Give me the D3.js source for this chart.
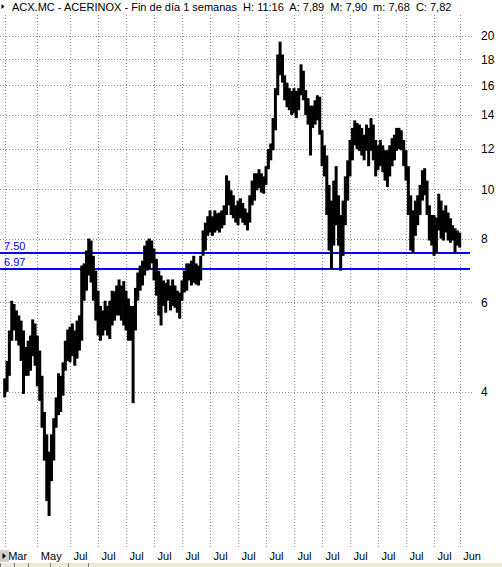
<!DOCTYPE html>
<html>
<head>
<meta charset="utf-8">
<script src="https://cdn.jsdelivr.net/npm/d3@7"></script>
<style>
  html, body { margin: 0; padding: 0; background: #fff; }
  svg { display: block; }
  text { font-family: "Liberation Sans", Arial, sans-serif; }
</style>
</head>
<body>
<svg id="chart" width="502" height="567"></svg>
<script>
// ACX.MC weekly price history, summarised as monthly high / low ranges
const firstMonth = new Date(1997, 2, 1);

const highs = [
  4.25, 4.6, 5.28, 6.04, 5.95, 5.78, 5.65, 5.52, 5.28, 4.9,
  5.04, 5.16, 5.55, 5.45, 5.16, 4.82, 4.3, 3.65, 3.3, 3.05,
  3.3, 3.55, 3.9, 4.35, 4.3, 4.57, 5.04, 5.3, 5.37, 5.45,
  5.28, 5.52, 5.65, 7.08, 7.15, 7.58, 8.0, 7.93, 7.4, 6.92,
  6.32, 5.9, 5.78, 6.04, 5.9, 6.04, 6.32, 6.3, 6.47, 6.65,
  6.47, 6.6, 6.32, 6.1, 5.9, 5.9, 6.4, 6.86, 7.08, 7.24,
  7.75, 7.93, 8.0, 7.93, 7.65, 7.3, 6.92, 6.77, 6.62, 6.55,
  6.65, 6.47, 6.65, 6.47, 6.32, 6.27, 6.62, 6.92, 7.15, 7.15,
  7.24, 7.4, 7.15, 7.08, 7.4, 8.3, 8.6, 8.85, 9.09, 8.85,
  9.09, 8.97, 9.0, 9.09, 9.3, 10.65, 10.4, 9.95, 9.73, 9.3,
  9.5, 9.6, 9.4, 9.17, 9.0, 9.73, 10.4, 10.75, 10.75, 10.95,
  10.75, 10.6, 11.1, 12.0, 12.3, 13.8, 15.8, 18.4, 19.5, 18.4,
  16.75, 16.2, 15.8, 15.6, 15.8, 15.6, 15.8, 17.6, 17.1, 15.66,
  15.1, 14.6, 14.6, 14.96, 15.3, 15.2, 13.06, 12.2, 11.65, 10.2,
  9.5, 10.4, 11.1, 9.73, 8.9, 9.5, 10.6, 11.4, 12.5, 13.2,
  13.66, 13.5, 13.4, 13.2, 12.8, 13.4, 13.2, 13.8, 13.4, 12.5,
  12.2, 12.5, 12.2, 11.93, 11.93, 12.2, 12.6, 12.8, 13.2, 13.2,
  13.06, 12.5, 11.93, 11.1, 9.73, 9.09, 9.5, 9.73, 10.2, 10.9,
  11.0, 10.4, 9.3, 8.9, 8.9, 8.8, 9.8, 9.5, 9.09, 9.3,
  9.0, 8.77, 8.5, 8.38, 8.3, 8.22
];

const lows = [
  3.9, 4.0, 4.3, 5.04, 5.28, 5.04, 4.93, 4.6, 3.96, 4.3,
  4.3, 4.4, 4.7, 4.5, 4.1, 3.84, 3.4, 2.93, 2.44, 2.28,
  2.67, 2.93, 3.4, 3.6, 3.65, 3.93, 4.4, 4.6, 4.57, 4.7,
  4.5, 4.65, 4.82, 5.04, 6.04, 6.32, 6.77, 6.56, 6.04, 5.52,
  5.16, 5.04, 5.16, 5.28, 5.16, 5.08, 5.4, 5.52, 5.65, 5.65,
  5.52, 5.4, 5.28, 5.04, 5.04, 3.8, 5.28, 6.04, 6.32, 6.47,
  6.77, 6.92, 6.97, 7.15, 6.62, 6.18, 5.65, 5.4, 5.9, 5.72,
  6.04, 5.78, 5.9, 5.85, 5.72, 5.57, 6.04, 6.27, 6.32, 6.62,
  6.47, 6.55, 6.5, 6.47, 6.62, 7.4, 7.58, 8.1, 8.22, 8.1,
  8.22, 8.3, 8.22, 8.38, 8.5, 8.9, 9.3, 8.9, 8.77, 8.6,
  8.5, 8.77, 8.6, 8.5, 8.3, 8.6, 9.3, 9.5, 9.95, 10.05,
  9.85, 9.8, 10.2, 10.95, 11.4, 11.93, 13.06, 15.3, 16.75, 16.2,
  14.96, 14.5, 14.3, 14.0, 14.1, 13.8, 14.3, 15.3, 14.96, 14.0,
  13.4, 11.65, 13.2, 13.4, 13.66, 12.8, 11.1, 10.6, 8.9, 7.58,
  6.97, 7.75, 8.5, 7.75, 6.92, 7.4, 8.5, 9.5, 10.6, 11.4,
  12.2, 12.0, 11.9, 11.65, 11.4, 11.9, 11.1, 11.9, 11.4, 10.6,
  10.9, 11.1, 10.8, 10.4, 10.1, 10.6, 11.1, 11.4, 11.9, 12.0,
  11.93, 11.1, 10.4, 8.9, 7.58, 7.5, 8.1, 8.5, 8.9, 9.5,
  9.73, 8.9, 7.93, 7.75, 7.4, 7.5, 8.3, 8.0, 7.93, 8.22,
  7.93, 7.85, 7.93, 7.5, 7.75, 7.68
];

const months = highs.map((_, i) => d3.timeMonth.offset(firstMonth, i));

// Axis labels
const yTicks = [4, 6, 8, 10, 12, 14, 16, 18, 20];
const xTickDates = [new Date(1997, 2, 1), new Date(1998, 4, 1)]
  .concat(d3.range(1999, 2013).map(yr => new Date(yr, 6, 1)))
  .concat([new Date(2013, 5, 1)]);

// Horizontal reference levels
const levels = [7.50, 6.97];

const title = "ACX.MC - ACERINOX - Fin de día 1 semanas  H: 11:16  A: 7,89  M: 7,90  m: 7,68  C: 7,82";

const svg = d3.select("#chart");
const plotLeft = 0, plotRight = 472, plotTop = 15, plotBottom = 548;

const x = d3.scaleTime()
  .domain([new Date(1997, 2, 1), new Date(2013, 5, 1)])
  .range([4.7, 459.7]);

const y = d3.scaleLog()
  .domain([2, 22])
  .range([545, 15]);

const px = v => Math.round(v) + 0.5;

// Dotted grid
const grid = svg.append("g")
  .attr("stroke", "#8a8a8a")
  .attr("stroke-width", 1)
  .attr("stroke-dasharray", "1,2")
  .attr("shape-rendering", "crispEdges");

grid.selectAll("line.h").data(yTicks).join("line")
  .attr("class", "h")
  .attr("x1", plotLeft).attr("x2", plotRight)
  .attr("y1", d => px(y(d))).attr("y2", d => px(y(d)));

grid.selectAll("line.v").data(xTickDates).join("line")
  .attr("class", "v")
  .attr("x1", d => px(x(d))).attr("x2", d => px(x(d)))
  .attr("y1", plotTop).attr("y2", plotBottom);

// Reference levels
svg.append("g").selectAll("line").data(levels).join("line")
  .attr("x1", plotLeft).attr("x2", 470)
  .attr("y1", d => Math.round(y(d))).attr("y2", d => Math.round(y(d)))
  .attr("stroke", "#0000ff").attr("stroke-width", 2)
  .attr("shape-rendering", "crispEdges");

svg.append("g").selectAll("text").data(levels).join("text")
  .attr("x", 4)
  .attr("y", d => y(d) - 3)
  .attr("fill", "#0000ff")
  .attr("font-size", "11px")
  .text(d => d.toFixed(2));

// Price bars
svg.append("g").selectAll("rect").data(months).join("rect")
  .attr("x", d => x(d) - 1.5)
  .attr("width", 3)
  .attr("y", (d, i) => y(highs[i]))
  .attr("height", (d, i) => Math.max(1, y(lows[i]) - y(highs[i])))
  .attr("fill", "#000");

// Right value axis
const yAxis = d3.axisRight(y).tickValues(yTicks).tickSize(0).tickPadding(9)
  .tickFormat(d3.format("d"));
const gy = svg.append("g").attr("transform", `translate(${plotRight},0)`).call(yAxis);
gy.select(".domain").remove();
gy.selectAll("text").attr("font-size", "12px").attr("fill", "#000")
  .attr("font-family", "'Liberation Sans', Arial, sans-serif");

// Bottom date axis
const xAxis = d3.axisBottom(x).tickValues(xTickDates).tickSize(0).tickPadding(0)
  .tickFormat(d3.timeFormat("%b"));
const gx = svg.append("g").attr("transform", `translate(0,552)`).call(xAxis);
gx.select(".domain").remove();
gx.selectAll("text")
  .attr("text-anchor", "start")
  .attr("dx", 3)
  .attr("dy", "0.71em")
  .attr("font-size", "11px")
  .attr("fill", "#000")
  .attr("font-family", "'Liberation Sans', Arial, sans-serif");

// Title bar
svg.append("path").attr("d", "M1.5,4 L4.5,6.5 L1.5,9 Z").attr("fill", "#000");
svg.append("text")
  .attr("x", 12).attr("y", 11)
  .attr("font-size", "11px")
  .attr("fill", "#000")
  .style("white-space", "pre")
  .text(title);

// Bottom-left scroll control and status strip
svg.append("rect").attr("x", 0).attr("y", 550).attr("width", 9).attr("height", 12)
  .attr("fill", "#d4d0c8");
svg.append("path").attr("d", "M2.5,553 L6,556 L2.5,559 Z").attr("fill", "#000");
svg.append("rect").attr("x", 0).attr("y", 563).attr("width", 502).attr("height", 4)
  .attr("fill", "#ece9d8");
svg.append("g").selectAll("line").data([0, 14, 28, 50, 68, 88]).join("line")
  .attr("x1", d => d + 0.5).attr("x2", d => d + 0.5)
  .attr("y1", 563).attr("y2", 567)
  .attr("stroke", "#808080");
</script>
</body>
</html>
